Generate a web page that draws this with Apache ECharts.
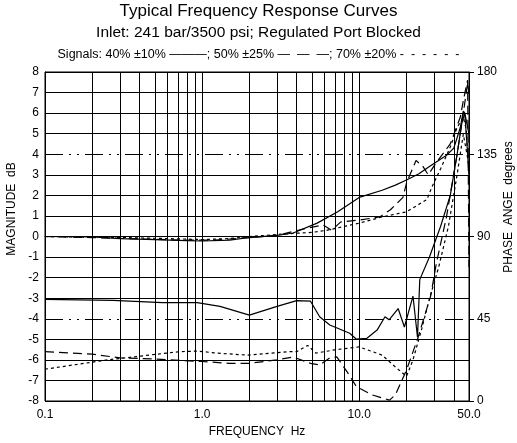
<!DOCTYPE html>
<html>
<head>
<meta charset="utf-8">
<script src="https://cdn.jsdelivr.net/npm/echarts@6/dist/echarts.min.js"></script>
<style>html,body{margin:0;padding:0;background:#fff}#c{width:517px;height:443px}</style>
</head>
<body>
<div id="c"></div>
<script>
// ---- tick / grid values ----
var magTicks = [-8,-7,-6,-5,-4,-3,-2,-1,0,1,2,3,4,5,6,7,8];
var phaseTicks = [0,45,90,135,180];
var freqGrid = [0.2,0.3,0.4,0.5,0.6,0.7,0.8,0.9,1,2,3,4,5,6,7,8,9,10,20,30,40];

// ---- 40% ±10% (solid) ----
var magSolidF = [0.1,0.2,0.3,0.5,0.8,1.0,1.5,2.0,3.0,3.8,5.4,7.3,10,14,17,20,24,28,32,36,40,42,44,46,47,48,49,50];
var magSolidV = [0.0,-0.02,-0.1,-0.15,-0.2,-0.22,-0.18,-0.05,0.05,0.17,0.65,1.2,1.9,2.25,2.5,2.75,3.05,3.4,3.7,3.95,4.3,4.8,5.3,6.1,6.0,5.0,4.0,3.0];
var phSolidF = [0.1,0.27,0.56,0.93,1.3,2.0,3.0,4.0,4.9,5.6,6.5,8.7,9.6,11.2,13,14.6,15.5,17.7,19.4,22,23.5,24.3,28,33,38,42,45,47,50];
var phSolidV = [55.6,55.1,53.8,53.8,51.8,47.0,51.8,54.9,54.6,46.1,41.6,37.1,33.8,34.3,38.8,46.1,44.4,50.6,40.5,57.4,34.9,66.4,78.8,95.6,112.5,135,151.9,157.5,146];

// ---- 50% ±25% (long dash) ----
var magLongF = [0.1,0.2,0.4,0.8,1.2,2.0,3.0,4.6,5.9,6.7,7.6,10,13.5,15.8,19,20,23,25.5,27.5,31,38,44,46,48,49,50];
var magLongV = [0.0,-0.05,-0.12,-0.18,-0.18,-0.05,0.05,0.4,0.56,0.3,0.7,0.8,0.95,1.3,1.9,2.6,3.7,3.4,3.0,3.6,4.5,5.8,6.6,7.3,7.6,-1.5];
var phLongF = [0.1,0.2,0.3,0.5,1.0,1.5,2.0,3.0,3.8,4.9,5.6,6.5,7.2,8.4,9.6,12,15.6,17,20,23.5,28.5,31,36,42,46,49,50];
var phLongV = [27,25.6,23.6,23,21.6,20.6,20.6,22.5,24.1,20.6,19.7,23.6,24.1,15.8,7.9,3.4,0.5,3.4,16.9,33.8,57.4,75.4,101,135,157.5,174,168];

// ---- 70% ±20% (short dash) ----
var magShortF = [0.1,0.3,0.6,1.0,1.5,2.0,3.8,5.0,6.2,10,14,20,27,29,33,38,42,46,48,50];
var magShortV = [0.0,-0.05,-0.1,-0.15,-0.1,0.0,0.15,0.2,0.3,0.65,0.95,1.2,1.8,2.4,3.3,4.35,5.3,5.8,5.2,3.2];
var phShortF = [0.1,0.25,0.47,0.72,0.93,1.25,1.95,3.6,4.0,4.7,5.3,7,10,14,17,20,22,25,28,32,37,42,46,50];
var phShortV = [17.4,22.5,25.2,27,27.3,26.2,25.1,27,27,30.4,26.2,28,29.6,25.1,18.6,13.5,22.5,39.4,56,73,95.6,123.8,146,129];

function pairs(f, v) { return f.map(function (x, i) { return [x, v[i]]; }); }

var FONT = 'Liberation Sans, Arial, sans-serif';
var chart = echarts.init(document.getElementById('c'), null, {renderer: 'canvas'});

// horizontal split-line colours: solid everywhere except the phase dash-dot lines
var magLineColors = magTicks.map(function (t) { return (t === -4 || t === 0 || t === 4) ? 'rgba(0,0,0,0)' : '#000'; });
var phLineColors = phaseTicks.map(function (t) { return (t === 0 || t === 180) ? 'rgba(0,0,0,0)' : '#000'; });

function lineSeries(name, data, yIdx, dash, extra) {
  var s = {
    name: name, type: 'line', data: data, yAxisIndex: yIdx,
    showSymbol: false, symbol: 'none', silent: true, animation: false,
    lineStyle: {color: '#000', width: 1.2, type: dash},
    z: 5
  };
  if (extra) for (var k in extra) s[k] = extra[k];
  return s;
}

var option = {
  backgroundColor: '#fff',
  animation: false,
  grid: {left: 45, right: 48, top: 72, bottom: 42, show: true, borderColor: '#000', borderWidth: 1},
  xAxis: {
    type: 'log', min: 0.1, max: 50, logBase: 10,
    axisLine: {show: true, lineStyle: {color: '#000'}},
    axisTick: {show: false},
    splitLine: {show: false},
    axisLabel: {color: '#000', fontFamily: FONT, fontSize: 12, margin: 8,
      formatter: function (v) { return (Math.round(v * 10) / 10).toFixed(1); }}
  },
  yAxis: [{
    type: 'value', min: -8, max: 8, interval: 1, position: 'left',
    axisLine: {show: true, lineStyle: {color: '#000'}},
    axisTick: {show: false},
    splitLine: {show: true, lineStyle: {color: magLineColors, width: 1}},
    axisLabel: {color: '#000', fontFamily: FONT, fontSize: 12, margin: 6}
  }, {
    type: 'value', min: 0, max: 180, interval: 45, position: 'right',
    axisLine: {show: true, lineStyle: {color: '#000'}},
    axisTick: {show: true, inside: false, length: 5, lineStyle: {color: '#000'}},
    splitLine: {show: true, lineStyle: {color: phLineColors, width: 1, type: [18, 6, 2, 6, 2, 6]}},
    axisLabel: {color: '#000', fontFamily: FONT, fontSize: 12, margin: 8}
  }],
  graphic: [
    {type: 'text', left: 'center', top: 3, style: {text: 'Typical Frequency Response Curves', fontFamily: FONT, fontSize: 17, fill: '#000'}},
    {type: 'text', left: 'center', top: 25, style: {text: 'Inlet: 241 bar/3500 psi; Regulated Port Blocked', fontFamily: FONT, fontSize: 15.5, fill: '#000'}},
    {type: 'text', left: 'center', top: 48, style: {text: 'Signals: 40% \u00b110% \u2014\u2014\u2014; 50% \u00b125% \u2014  \u2014  \u2014; 70% \u00b120% -  -  -  -  -  -', fontFamily: FONT, fontSize: 12.5, fill: '#000'}},
    {type: 'text', x: 257, y: 426, style: {text: 'FREQUENCY  Hz', fontFamily: FONT, fontSize: 12, fill: '#000', align: 'center', verticalAlign: 'top'}},
    {type: 'text', x: 12, y: 209, rotation: Math.PI / 2, style: {text: 'MAGNITUDE  dB', fontFamily: FONT, fontSize: 12, fill: '#000', align: 'center', verticalAlign: 'middle'}},
    {type: 'text', x: 509, y: 207, rotation: Math.PI / 2, style: {text: 'PHASE  ANGE  degrees', fontFamily: FONT, fontSize: 12, fill: '#000', align: 'center', verticalAlign: 'middle'}}
  ],
  series: [
    lineSeries('grid', [], 0, 'solid', {
      markLine: {silent: true, symbol: 'none', label: {show: false},
        lineStyle: {color: '#000', width: 1, type: 'solid'},
        data: freqGrid.map(function (f) { return {xAxis: f}; })}
    }),
    lineSeries('mag40', pairs(magSolidF, magSolidV), 0, 'solid'),
    lineSeries('ph40', pairs(phSolidF, phSolidV), 1, 'solid'),
    lineSeries('mag50', pairs(magLongF, magLongV), 0, [9, 5]),
    lineSeries('ph50', pairs(phLongF, phLongV), 1, [9, 5]),
    lineSeries('mag70', pairs(magShortF, magShortV), 0, [3, 3]),
    lineSeries('ph70', pairs(phShortF, phShortV), 1, [3, 3])
  ]
};
chart.setOption(option);
</script>
</body>
</html>
